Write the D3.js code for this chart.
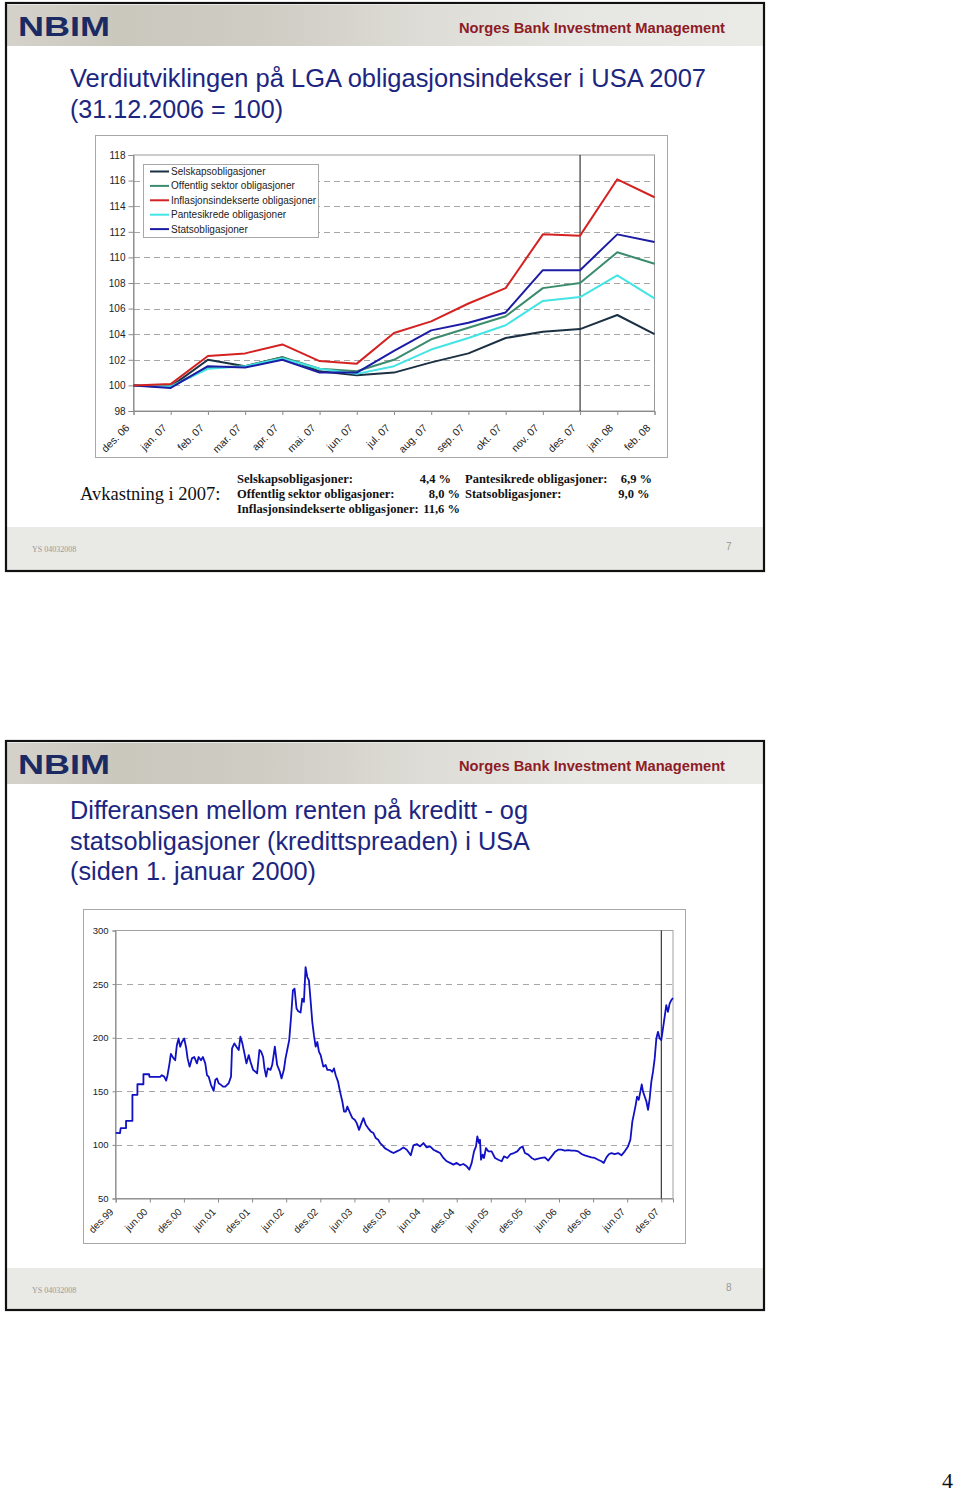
<!DOCTYPE html>
<html><head><meta charset="utf-8">
<script src="https://cdn.jsdelivr.net/npm/d3@7"></script>
<style>html,body{margin:0;padding:0;background:#fff;}svg{display:block;}</style>
</head><body>
<script>
// ---------- Chart 1 data ----------
const months1 = ["des. 06","jan. 07","feb. 07","mar. 07","apr. 07","mai. 07","jun. 07","jul. 07","aug. 07","sep. 07","okt. 07","nov. 07","des. 07","jan. 08","feb. 08"];
const seriesNames1 = ["Selskapsobligasjoner","Offentlig sektor obligasjoner","Inflasjonsindekserte obligasjoner","Pantesikrede obligasjoner","Statsobligasjoner"];
const seriesColors1 = ["#1b3042","#3a8c6c","#d42222","#44e4e4","#1c1ca4"];
const selskap   = [100, 99.9, 102.0, 101.5, 102.2, 101.1, 100.8, 101.0, 101.8, 102.5, 103.7, 104.2, 104.4, 105.5, 104.0];
const offentlig = [100, 99.9, 101.4, 101.5, 102.2, 101.3, 101.1, 102.0, 103.6, 104.5, 105.4, 107.6, 108.0, 110.4, 109.5];
const inflasjon = [100, 100.1, 102.3, 102.5, 103.2, 101.9, 101.7, 104.1, 105.0, 106.4, 107.6, 111.8, 111.7, 116.1, 114.7];
const pantesikr = [100, 99.9, 101.3, 101.5, 102.1, 101.3, 100.9, 101.5, 102.8, 103.7, 104.7, 106.6, 106.9, 108.6, 106.8];
const stats     = [100, 99.8, 101.5, 101.4, 102.0, 101.0, 101.0, 102.7, 104.3, 104.9, 105.7, 109.0, 109.0, 111.8, 111.2];
const yTicks1 = [98,100,102,104,106,108,110,112,114,116,118];
const returnsLeft  = [["Selskapsobligasjoner:","4,4 %"],["Offentlig sektor obligasjoner:","8,0 %"],["Inflasjonsindekserte obligasjoner:","11,6 %"]];
const returnsRight = [["Pantesikrede obligasjoner:","6,9 %"],["Statsobligasjoner:","9,0 %"]];

// ---------- Chart 2 data (months since des.99, spread in bp) ----------
const spreadMonth = [0,0.76,0.88,1.82,1.82,2.94,2.94,3.82,3.82,4.88,4.88,5.88,5.94,7.82,8.12,8.53,8.88,9.12,9.47,9.71,10.18,10.47,10.76,11.06,11.35,11.65,12.06,12.41,12.65,13.0,13.41,13.82,14.29,14.59,15.0,15.35,15.76,16.06,16.35,16.76,17.24,17.53,17.82,18.12,18.53,18.88,19.29,19.59,19.88,20.29,20.47,20.88,21.24,21.65,21.94,22.29,22.65,23.0,23.41,23.71,24.18,24.59,24.88,25.29,25.59,25.94,26.18,26.47,26.76,27.24,27.53,27.71,28.0,28.41,28.88,29.18,29.59,29.88,30.18,30.53,30.88,31.18,31.47,31.82,32.12,32.53,32.82,33.12,33.41,33.71,34.0,34.29,34.59,34.88,35.18,35.47,35.76,36.06,36.53,36.94,37.24,37.71,38.12,38.41,38.71,39.12,39.47,39.88,40.18,40.47,40.76,41.24,41.65,42.06,42.41,42.82,43.24,43.59,44.0,44.41,44.88,45.35,45.76,46.18,46.53,46.94,47.35,47.82,48.29,48.88,49.46,50.05,50.63,51.22,51.92,52.39,52.98,53.56,54.15,54.73,55.32,55.9,56.49,57.07,57.66,58.25,58.83,59.42,60.0,60.59,61.17,61.76,62.23,62.64,63.05,63.4,63.63,63.93,64.1,64.28,64.57,64.8,65.15,65.56,66.15,66.74,67.32,67.91,68.32,68.9,69.49,70.07,70.66,71.13,71.59,72.0,72.59,73.18,73.76,74.35,74.93,75.52,76.1,76.69,77.27,77.86,78.44,79.03,79.62,80.2,80.79,81.37,81.96,82.54,83.13,83.71,84.3,84.88,85.47,85.88,86.35,86.82,87.23,87.81,88.4,88.98,89.57,90.15,90.56,90.91,91.15,91.5,91.74,92.03,92.32,92.56,92.79,93.08,93.38,93.67,93.96,94.25,94.54,94.84,95.13,95.42,95.71,96.0,96.3,96.59,96.88,97.17,97.47,97.76,98.05];
const spreadValue = [111.3,111,115.7,115.7,122.5,122.5,146.7,146.7,156.6,156.6,165.9,166,163.4,163.4,165,163.7,160,165,176,184.8,180.7,179,193,199.3,191.6,196,199.3,190,180.7,173,180.7,182,176,182,179,182,176,165,163.7,156,150.4,160.6,162,157.5,156,154.4,154.4,156,157.5,163.7,190,194.7,191.6,188.5,200.9,194.7,185.4,176,183.8,177.6,170,168.3,166.8,188.5,187,182,171.4,163.7,171.4,170,174.5,180.7,191.6,174.5,168.3,162,170,180.7,188.5,197.8,221,244.2,245.8,227.2,224.7,223.5,236.5,233.4,265.9,256.6,253.5,234.9,214.8,202.4,191.6,196,187,183.8,173,174.5,170,170,168.3,171.4,165,159,149.7,140.5,131,131,135.8,129.6,125,123.4,120.3,114,120.3,125,118.8,115.7,112.6,111,106.4,104.8,101.7,99.6,97,95.5,94,92.4,94,95.5,97.7,95.5,90.3,99.6,100.8,98.6,101.7,97.7,98.6,95.5,94,92.4,87.8,84.7,83.2,81.6,83.2,81,82.2,80,77,83.2,94,98.6,107.9,101.7,104.8,86.2,90.9,87.8,97,94,94,87.8,86.2,84.7,89.3,87.8,91.5,92.4,94,97,98.6,92.4,90.9,87.8,86.2,87.1,87.8,88.4,85.3,89.3,93.3,95.5,95.5,94.6,95.2,94.6,94.6,94,91.5,90.3,89.3,88.4,87.8,86.2,84.7,83.2,88.4,91.5,92.4,91.5,92.4,90.3,94,98.6,104.8,121.9,128,137.4,145.1,142,149.7,156.4,149.7,145.1,140.5,132.7,143.5,159,168.3,180.7,199.3,205.5,199.3,197.8,208.6,219.5,230.3,224.1,231.8,235,237.1];
const xTickLabels2 = ["des.99","jun.00","des.00","jun.01","des.01","jun.02","des.02","jun.03","des.03","jun.04","des.04","jun.05","des.05","jun.06","des.06","jun.07","des.07"];
const yTicks2 = [50,100,150,200,250,300];

// ---------- Page ----------
const W = 960, H = 1494;
const svg = d3.select("body").append("svg").attr("width", W).attr("height", H);
const SANS = "'Liberation Sans', Arial, sans-serif";
const SERIF = "'Liberation Serif', 'Times New Roman', serif";
const defs = svg.append("defs");
const grad = defs.append("linearGradient").attr("id","hdr").attr("x1","0").attr("x2","1").attr("y1","0").attr("y2","0");
[[0,"#d4d2ca"],[0.15,"#cac7bd"],[0.35,"#cfcdc4"],[0.55,"#dddcd6"],[0.75,"#e6e6e2"],[1,"#eaeae6"]].forEach(([o,c])=>grad.append("stop").attr("offset",o).attr("stop-color",c));

function fitText(sel, width){
  const n = sel.node(); const l = n.getComputedTextLength();
  if (l > 0) sel.attr("textLength", width).attr("lengthAdjust","spacingAndGlyphs");
  return sel;
}

function slide(top, bottom, titleLines, titleY, footerY, pageNo){
  const g = svg.append("g");
  g.append("rect").attr("x",7).attr("y",top+2).attr("width",756).attr("height",41).attr("fill","url(#hdr)");
  fitText(g.append("text").attr("x",18).attr("y",top+33).attr("font-family",SANS).attr("font-weight","bold")
    .attr("font-size",28).attr("fill","#1b2a63").text("NBIM"), 92);
  fitText(g.append("text").attr("x",459).attr("y",top+30).attr("font-family",SANS).attr("font-weight","bold")
    .attr("font-size",14).attr("fill","#8e1b26").text("Norges Bank Investment Management"), 266);
  titleLines.forEach((t,i)=>{
    fitText(g.append("text").attr("x",70).attr("y",titleY + i*30.5).attr("font-family",SANS)
      .attr("font-size",25.5).attr("fill","#1c2680").text(t[0]), t[1]);
  });
  g.append("rect").attr("x",7).attr("y",footerY).attr("width",756).attr("height",bottom-footerY-1).attr("fill","#e9e9e5");
  g.append("text").attr("x",32).attr("y",footerY+25).attr("font-family",SERIF).attr("font-size",8).attr("fill","#999").text("YS 04032008");
  g.append("text").attr("x",726).attr("y",footerY+23).attr("font-family",SANS).attr("font-size",10).attr("fill","#999").text(pageNo);
  g.append("rect").attr("x",6).attr("y",top).attr("width",758).attr("height",bottom-top).attr("fill","none").attr("stroke","#111").attr("stroke-width",2.2);
}

slide(3, 571, [["Verdiutviklingen på LGA obligasjonsindekser i USA 2007",636],["(31.12.2006 = 100)",213]], 87, 527, "7");
slide(741, 1310, [["Differansen mellom renten på kreditt - og",458],["statsobligasjoner (kredittspreaden) i USA",460],["(siden 1. januar 2000)",246]], 819, 1268, "8");

svg.append("text").attr("x",942).attr("y",1488).attr("font-family",SERIF).attr("font-size",22).attr("fill","#111").text("4");

// ---------- Chart 1 ----------
{
  const g = svg.append("g");
  g.append("rect").attr("x",95.5).attr("y",135.5).attr("width",572).attr("height",322).attr("fill","#fff").attr("stroke","#a8a8a8");
  const x = d3.scalePoint().domain(months1).range([133.5, 654.5]);
  const y = d3.scaleLinear().domain([98,118]).range([411, 155]);
  g.append("rect").attr("x",133.5).attr("y",155).attr("width",521).attr("height",256).attr("fill","#fff").attr("stroke","#9a9a9a");
  g.selectAll(".grid").data(yTicks1.filter(v=>v>98 && v<118)).join("line")
    .attr("x1",134).attr("x2",654).attr("y1",d=>Math.round(y(d))+0.5).attr("y2",d=>Math.round(y(d))+0.5)
    .attr("stroke","#a6a6a6").attr("stroke-dasharray","6,4");
  const ya = g.append("g").attr("transform","translate(133.5,0)")
    .call(d3.axisLeft(y).tickValues(yTicks1).tickSize(5).tickPadding(3).tickFormat(d3.format("d")));
  ya.select(".domain").attr("stroke","#8a8a8a");
  ya.selectAll(".tick line").attr("stroke","#8a8a8a");
  ya.selectAll("text").attr("font-family",SANS).attr("font-size",10).attr("fill","#222");
  const xa = g.append("g").attr("transform","translate(0,411)")
    .call(d3.axisBottom(x).tickSize(4).tickFormat(""));
  xa.select(".domain").attr("stroke","#8a8a8a");
  xa.selectAll(".tick line").attr("stroke","#8a8a8a");
  g.selectAll(".xl").data(months1).join("text")
    .attr("transform",d=>`translate(${x(d)-6},${426}) rotate(-45)`)
    .attr("text-anchor","end").attr("dy","0.35em").attr("font-family",SANS).attr("font-size",10.5).attr("fill","#222").text(d=>d);
  g.append("line").attr("x1",x("des. 07")).attr("x2",x("des. 07")).attr("y1",155).attr("y2",411).attr("stroke","#111").attr("stroke-width",1);
  const all = [selskap, offentlig, inflasjon, pantesikr, stats];
  const line = d3.line().x((d,i)=>x(months1[i])).y(d=>y(d));
  [0,1,3,4,2].forEach(k=>{
    g.append("path").datum(all[k]).attr("d",line).attr("fill","none").attr("stroke",seriesColors1[k]).attr("stroke-width",2).attr("stroke-linejoin","round");
  });
  // legend
  g.append("rect").attr("x",143.5).attr("y",164.5).attr("width",175).attr("height",73).attr("fill","#fff").attr("stroke","#a8a8a8");
  seriesNames1.forEach((n,i)=>{
    const yy = 171.5 + i*14.4;
    g.append("line").attr("x1",150).attr("x2",169).attr("y1",yy).attr("y2",yy).attr("stroke",seriesColors1[i]).attr("stroke-width",2);
    g.append("text").attr("x",171).attr("y",yy+3.5).attr("font-family",SANS).attr("font-size",10).attr("fill","#222").text(n);
  });
  // returns text
  g.append("text").attr("x",80).attr("y",500).attr("font-family",SERIF).attr("font-size",18.5).attr("fill","#111").text("Avkastning i 2007:");
  const FS = 12.5;
  returnsLeft.forEach((r,i)=>{
    const yy = 482.5 + i*15;
    g.append("text").attr("x",237).attr("y",yy).attr("font-family",SERIF).attr("font-weight","bold").attr("font-size",FS).attr("fill","#111").text(r[0]);
    g.append("text").attr("x", i===0 ? 451 : 460).attr("y",yy).attr("text-anchor","end").attr("font-family",SERIF).attr("font-weight","bold").attr("font-size",FS).attr("fill","#111").text(r[1]);
  });
  returnsRight.forEach((r,i)=>{
    const yy = 482.5 + i*15;
    g.append("text").attr("x",465).attr("y",yy).attr("font-family",SERIF).attr("font-weight","bold").attr("font-size",FS).attr("fill","#111").text(r[0]);
    g.append("text").attr("x", i===0 ? 652 : 649.5).attr("y",yy).attr("text-anchor","end").attr("font-family",SERIF).attr("font-weight","bold").attr("font-size",FS).attr("fill","#111").text(r[1]);
  });
}

// ---------- Chart 2 ----------
{
  const g = svg.append("g");
  g.append("rect").attr("x",83.5).attr("y",909.5).attr("width",602).attr("height",334).attr("fill","#fff").attr("stroke","#a8a8a8");
  const x = d3.scaleLinear().domain([0, 98.06]).range([115.7, 673]);
  const y = d3.scaleLinear().domain([50, 300]).range([1198.5, 930.5]);
  g.append("rect").attr("x",115.5).attr("y",930.5).attr("width",557.5).attr("height",268).attr("fill","#fff").attr("stroke","#a0a0a0");
  g.selectAll(".grid").data(yTicks2.filter(v=>v>50 && v<300)).join("line")
    .attr("x1",116).attr("x2",672).attr("y1",d=>Math.round(y(d))+0.5).attr("y2",d=>Math.round(y(d))+0.5)
    .attr("stroke","#a6a6a6").attr("stroke-dasharray","6,5");
  const ya = g.append("g").attr("transform","translate(115.5,0)")
    .call(d3.axisLeft(y).tickValues(yTicks2).tickSize(3).tickPadding(4).tickFormat(d3.format("d")));
  ya.select(".domain").attr("stroke","#8a8a8a");
  ya.selectAll(".tick line").attr("stroke","#8a8a8a");
  ya.selectAll("text").attr("font-family",SANS).attr("font-size",9.5).attr("fill","#222");
  const tickVals = xTickLabels2.map((d,i)=>i*6);
  const xa = g.append("g").attr("transform","translate(0,1198.5)")
    .call(d3.axisBottom(x).tickValues(tickVals).tickSize(4).tickFormat(""));
  xa.select(".domain").attr("stroke","#8a8a8a");
  xa.selectAll(".tick line").attr("stroke","#8a8a8a");
  g.selectAll(".xl").data(xTickLabels2).join("text")
    .attr("transform",(d,i)=>`translate(${x(i*6)-4},${1210}) rotate(-45)`)
    .attr("text-anchor","end").attr("dy","0.35em").attr("font-family",SANS).attr("font-size",10).attr("fill","#222").text(d=>d);
  g.append("line").attr("x1",x(96)).attr("x2",x(96)).attr("y1",930.5).attr("y2",1198.5).attr("stroke","#111").attr("stroke-width",1);
  const line = d3.line().x((d,i)=>x(spreadMonth[i])).y(d=>y(d));
  g.append("path").datum(spreadValue).attr("d",line).attr("fill","none").attr("stroke","#1010c4").attr("stroke-width",1.8).attr("stroke-linejoin","round");
}
</script>
</body></html>
